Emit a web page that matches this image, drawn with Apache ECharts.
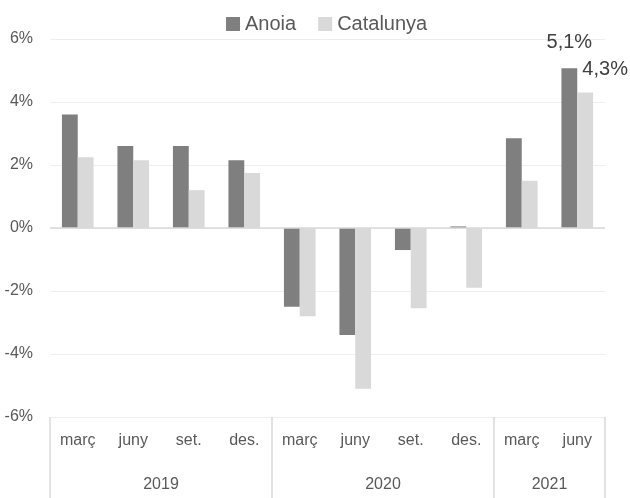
<!DOCTYPE html>
<html>
<head>
<meta charset="utf-8">
<script src="https://cdn.jsdelivr.net/npm/echarts@6/dist/echarts.min.js"></script>
<style>
  html, body { margin: 0; padding: 0; background: #fff; }
  #chart { width: 630px; height: 498px; }
</style>
</head>
<body>
<div id="chart"></div>
<script>
// categories (quarters) and year groups
const months = ['març', 'juny', 'set.', 'des.', 'març', 'juny', 'set.', 'des.', 'març', 'juny']
const years = ['2019', '2020', '2021']
const yearCenters = [2, 6, 9] // position on the 0..10 value axis
const yearBounds = [0, 4, 8]   // category index where a year starts

// series values (%)
const anoia = [3.6, 2.6, 2.6, 2.15, -2.5, -3.4, -0.7, 0.05, 2.85, 5.07]
const catalunya = [2.25, 2.15, 1.2, 1.75, -2.8, -5.1, -2.55, -1.9, 1.5, 4.3]

const font = 'Liberation Sans, Arial, sans-serif'
const labelIdx = 9 // only last bars get a data label

function fmt (p) {
  return p.value.toFixed(1).replace('.', ',') + '%'
}

const chart = echarts.init(document.getElementById('chart'))
const option = {
  animation: false,
  textStyle: { fontFamily: font },
  color: ['#7f7f7f', '#d9d9d9'],
  legend: {
    left: 221,
    top: 9,
    itemWidth: 14,
    itemHeight: 14,
    itemGap: 22,
    icon: 'rect',
    textStyle: { fontSize: 20, color: '#595959', fontFamily: font },
    data: ['Anoia', 'Catalunya']
  },
  grid: { left: 50, right: 25, top: 39, bottom: 81 },
  xAxis: [
    {
      type: 'category',
      data: months,
      position: 'bottom',
      axisLine: { show: false, onZero: false },
      axisTick: {
        show: true,
        length: 81,
        interval: function (i) { return yearBounds.indexOf(i) !== -1 },
        lineStyle: { color: '#d9d9d9', width: 1.5 }
      },
      axisLabel: { interval: 0, margin: 16, fontSize: 16, color: '#595959', fontFamily: font }
    },
    {
      type: 'value',
      min: 0,
      max: 10,
      interval: 1,
      position: 'bottom',
      axisLine: { show: false, onZero: false },
      axisTick: { show: false },
      splitLine: { show: false },
      axisLabel: {
        margin: 60,
        fontSize: 16,
        color: '#595959',
        fontFamily: font,
        formatter: function (v) {
          const k = yearCenters.indexOf(v)
          return k === -1 ? '' : years[k]
        }
      }
    }
  ],
  yAxis: {
    type: 'value',
    min: -6,
    max: 6,
    interval: 2,
    axisLine: { show: false },
    axisTick: { show: false },
    splitLine: { lineStyle: { color: '#eeeeee', width: 1 } },
    axisLabel: { formatter: '{value}%', fontSize: 16, color: '#595959', margin: 17, fontFamily: font }
  },
  series: [
    {
      name: 'Anoia',
      type: 'bar',
      barGap: '0%',
      barCategoryGap: '43%',
      data: anoia.map(function (v, i) {
        if (i !== labelIdx) return v
        return {
          value: v,
          label: {
            show: true, position: 'top', distance: 16, formatter: fmt,
            fontSize: 20, color: '#404040', fontFamily: font
          }
        }
      }),
      markLine: {
        silent: true,
        symbol: ['none', 'none'],
        label: { show: false },
        lineStyle: { color: '#d9d9d9', type: 'solid', width: 1.5 },
        data: [{ yAxis: 0 }]
      }
    },
    {
      name: 'Catalunya',
      type: 'bar',
      barGap: '0%',
      barCategoryGap: '43%',
      data: catalunya.map(function (v, i) {
        if (i !== labelIdx) return v
        return {
          value: v,
          label: {
            show: true, position: 'top', distance: 13, offset: [20, 0], formatter: fmt,
            fontSize: 20, color: '#404040', fontFamily: font
          }
        }
      })
    }
  ]
}
chart.setOption(option)
</script>
</body>
</html>
